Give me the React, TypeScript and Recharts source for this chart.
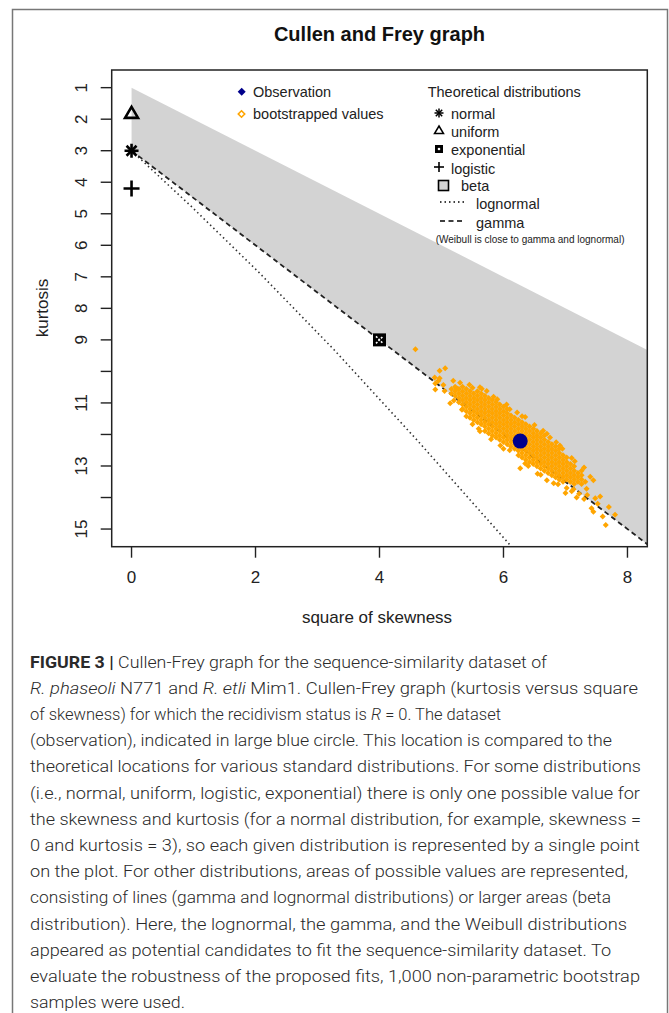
import React from "react";
import { Area, ComposedChart, Line, Scatter, XAxis, YAxis } from "recharts";

const FONT = "'Liberation Sans', Arial, Helvetica, sans-serif";
const CAPTION_FONT = "Roboto, 'Liberation Sans', Arial, sans-serif";
const INK = "#222";

const xTicks = [0, 2, 4, 6, 8];
const yTicks = [1, 2, 3, 4, 5, 6, 7, 8, 9, 10, 11, 12, 13, 14, 15];
const yLabelled = [1, 2, 3, 4, 5, 6, 7, 8, 9, 11, 13, 15];

// beta region: between kurtosis = s2 + 1 and the gamma line
const betaRegion = [
  { s: 0, k: [1, 3] },
  { s: 8.32, k: [9.32, 15.48] },
];

const gammaLine = [
  { s: 0, k: 3 },
  { s: 8.32, k: 15.48 },
];

const lognormalLine = [
  { s: 0, k: 3 },
  { s: 0.96, k: 4.76 },
  { s: 2.05, k: 6.85 },
  { s: 3.27, k: 9.32 },
  { s: 4.62, k: 12.21 },
  { s: 6.13, k: 15.56 },
];

const normalPt = [{ s: 0, k: 3 }];
const uniformPt = [{ s: 0, k: 1.8 }];
const logisticPt = [{ s: 0, k: 4.2 }];
const exponentialPt = [{ s: 4, k: 9 }];
const observation = [{ s: 6.27, k: 12.21 }];

// bootstrapped values, dense core read column by column (s2, kurtosis values)
const bootCols: [number, number[]][] = [
  [5.16, [10.56, 10.7]],
  [5.22, [10.49, 10.63, 10.77]],
  [5.28, [10.56, 10.7, 10.84, 10.98]],
  [5.34, [10.49, 10.63, 10.77, 10.91, 11.05, 11.19]],
  [5.4, [10.56, 10.7, 10.84, 10.98, 11.12, 11.26]],
  [5.46, [10.63, 10.77, 10.91, 11.05, 11.19, 11.33, 11.47]],
  [5.52, [10.7, 10.84, 10.98, 11.12, 11.26, 11.4, 11.54]],
  [5.58, [10.63, 10.77, 10.91, 11.05, 11.19, 11.33, 11.47, 11.61]],
  [5.64, [10.7, 10.84, 10.98, 11.12, 11.26, 11.4, 11.54, 11.68]],
  [5.7, [10.77, 10.91, 11.05, 11.19, 11.33, 11.47, 11.61, 11.75, 11.89]],
  [5.76, [10.84, 10.98, 11.12, 11.26, 11.4, 11.54, 11.68, 11.82, 11.96]],
  [5.82, [10.91, 11.05, 11.19, 11.33, 11.47, 11.61, 11.75, 11.89, 12.03]],
  [5.88, [10.98, 11.12, 11.26, 11.4, 11.54, 11.68, 11.82, 11.96, 12.1]],
  [5.94, [11.05, 11.19, 11.33, 11.47, 11.61, 11.75, 11.89, 12.03, 12.17]],
  [6.0, [11.12, 11.26, 11.4, 11.54, 11.68, 11.82, 11.96, 12.1, 12.24]],
  [6.06, [11.19, 11.33, 11.47, 11.61, 11.75, 11.89, 12.03, 12.17, 12.31]],
  [6.12, [11.4, 11.54, 11.68, 11.82, 11.96, 12.1, 12.24, 12.38]],
  [6.18, [11.47, 11.61, 11.75, 11.89, 12.03, 12.17, 12.31, 12.45]],
  [6.24, [11.54, 11.68, 11.82, 11.96, 12.1, 12.24, 12.38, 12.52, 12.66]],
  [6.3, [11.61, 11.75, 11.89, 12.03, 12.17, 12.31, 12.45, 12.59, 12.73]],
  [6.36, [11.68, 11.82, 11.96, 12.1, 12.24, 12.38, 12.52, 12.66, 12.8]],
  [6.42, [11.75, 11.89, 12.03, 12.17, 12.31, 12.45, 12.59, 12.73, 12.87]],
  [6.48, [11.82, 11.96, 12.1, 12.24, 12.38, 12.52, 12.66, 12.8, 12.94]],
  [6.54, [11.89, 12.03, 12.17, 12.31, 12.45, 12.59, 12.73, 12.87, 13.01]],
  [6.6, [11.96, 12.1, 12.24, 12.38, 12.52, 12.66, 12.8, 12.94, 13.08]],
  [6.66, [12.03, 12.17, 12.31, 12.45, 12.59, 12.73, 12.87, 13.01, 13.15]],
  [6.72, [12.24, 12.38, 12.52, 12.66, 12.8, 12.94, 13.08, 13.22]],
  [6.78, [12.31, 12.45, 12.59, 12.73, 12.87, 13.01, 13.15, 13.29]],
  [6.84, [12.38, 12.52, 12.66, 12.8, 12.94, 13.08, 13.22, 13.36]],
  [6.9, [12.45, 12.59, 12.73, 12.87, 13.01, 13.15, 13.29, 13.43]],
  [6.96, [12.66, 12.8, 12.94, 13.08, 13.22, 13.36, 13.5]],
  [7.02, [12.73, 12.87, 13.01, 13.15, 13.29, 13.43]],
  [7.08, [12.94, 13.08, 13.22, 13.36, 13.5]],
  [7.14, [13.01, 13.15, 13.29, 13.43, 13.57]],
  [7.2, [13.22, 13.36, 13.5]],
  [7.26, [13.29, 13.43, 13.57]],
  [7.32, [13.5]],
];

// scattered bootstrapped values around the core
const bootOutliers: [number, number][] = [
  [4.58, 9.3], [4.97, 9.98], [5.06, 9.9], [4.89, 10.19], [4.97, 10.22],
  [4.9, 10.57], [5.03, 10.43], [4.9, 10.38], [5.19, 10.3], [5.3, 10.36],
  [5.14, 11.01], [5.33, 11.22], [5.73, 10.62], [5.84, 10.8], [6.22, 11.3],
  [6.35, 11.45], [6.64, 11.88], [6.75, 12.1], [6.91, 12.35], [5.95, 12.35],
  [6.27, 13.07], [6.7, 13.45], [6.81, 13.55], [7.02, 13.7], [7.0, 13.86],
  [7.13, 13.74], [7.26, 13.15], [7.4, 13.34], [7.34, 13.72], [7.48, 14.02],
  [7.56, 13.97], [7.42, 14.34], [7.45, 14.45], [7.8, 14.55], [7.65, 14.87],
  [7.35, 13.92], [7.3, 14.05], [7.18, 14.0], [5.5, 11.68], [5.6, 11.82],
  [6.0, 12.45], [6.4, 13.0], [6.55, 13.25], [5.45, 10.42], [5.62, 10.5],
  [6.05, 11.05], [6.5, 11.7], [6.85, 12.25], [7.1, 12.75], [5.25, 10.54],
  [5.5, 10.52], [5.65, 10.55], [5.9, 10.88], [6.1, 11.2], [6.3, 11.42],
  [6.7, 11.98], [6.95, 12.45], [7.15, 12.85], [7.3, 13.05], [7.45, 13.45],
  [5.2, 10.92], [5.4, 11.42], [5.62, 11.9], [5.8, 12.15], [6.1, 12.5],
  [6.35, 12.92], [6.6, 13.28], [6.88, 13.58], [7.1, 13.8], [7.22, 13.88],
  [7.52, 14.2], [7.6, 14.6], [7.7, 14.3], [5.05, 10.62], [4.95, 10.3],
];

const bootData = [
  ...bootCols.flatMap(([s, ks]) => ks.map((k) => ({ s, k }))),
  ...bootOutliers.map(([s, k]) => ({ s, k })),
];

type Seg = { t: string; b?: boolean; i?: boolean };
const captionLines: { segs: Seg[]; right: number }[] = [
  { segs: [{ t: "FIGURE 3 | ", b: true }, { t: "Cullen-Frey graph for the sequence-similarity dataset of" }], right: 547 },
  { segs: [{ t: "R. phaseoli", i: true }, { t: " N771 and " }, { t: "R. etli", i: true }, { t: " Mim1. Cullen-Frey graph (kurtosis versus square" }], right: 638 },
  { segs: [{ t: "of skewness) for which the recidivism status is " }, { t: "R", i: true }, { t: " = 0. The dataset" }], right: 501 },
  { segs: [{ t: "(observation), indicated in large blue circle. This location is compared to the" }], right: 612 },
  { segs: [{ t: "theoretical locations for various standard distributions. For some distributions" }], right: 641 },
  { segs: [{ t: "(i.e., normal, uniform, logistic, exponential) there is only one possible value for" }], right: 640 },
  { segs: [{ t: "the skewness and kurtosis (for a normal distribution, for example, skewness =" }], right: 641 },
  { segs: [{ t: "0 and kurtosis = 3), so each given distribution is represented by a single point" }], right: 640 },
  { segs: [{ t: "on the plot. For other distributions, areas of possible values are represented," }], right: 628 },
  { segs: [{ t: "consisting of lines (gamma and lognormal distributions) or larger areas (beta" }], right: 611 },
  { segs: [{ t: "distribution). Here, the lognormal, the gamma, and the Weibull distributions" }], right: 627 },
  { segs: [{ t: "appeared as potential candidates to fit the sequence-similarity dataset. To" }], right: 611 },
  { segs: [{ t: "evaluate the robustness of the proposed fits, 1,000 non-parametric bootstrap" }], right: 640 },
  { segs: [{ t: "samples were used." }], right: 185 },
];

const XTick = ({ x, y, payload }: any) => (
  <text x={x} y={y + 18} textAnchor="middle" dominantBaseline="central" fontFamily={FONT} fontSize={17} fill={INK}>
    {payload.value}
  </text>
);

const YTick = ({ x, y, payload }: any) => {
  if (!yLabelled.includes(payload.value)) return <g />;
  const tx = x - 17;
  return (
    <text x={tx} y={y} transform={`rotate(-90 ${tx} ${y})`} textAnchor="middle" dominantBaseline="central" fontFamily={FONT} fontSize={17} fill={INK}>
      {payload.value}
    </text>
  );
};

const Diamond = ({ cx, cy }: any) => (
  <path d={`M${cx} ${cy - 3}L${cx + 3} ${cy}L${cx} ${cy + 3}L${cx - 3} ${cy}Z`} fill="#FFA500" />
);

const Dot = ({ cx, cy }: any) => <circle cx={cx} cy={cy} r={7.5} fill="#00008B" />;

const Triangle = ({ cx, cy }: any) => (
  <path d={`M${cx} ${cy - 6}L${cx + 6.5} ${cy + 5}L${cx - 6.5} ${cy + 5}Z`} fill="none" stroke="#000" strokeWidth={2.6} />
);

const Asterisk = ({ cx, cy }: any) => (
  <g stroke="#000" strokeWidth={2.6}>
    <line x1={cx - 7} y1={cy} x2={cx + 7} y2={cy} />
    <line x1={cx} y1={cy - 7} x2={cx} y2={cy + 7} />
    <line x1={cx - 5} y1={cy - 5} x2={cx + 5} y2={cy + 5} />
    <line x1={cx - 5} y1={cy + 5} x2={cx + 5} y2={cy - 5} />
  </g>
);

const Plus = ({ cx, cy }: any) => (
  <g stroke="#000" strokeWidth={2.6}>
    <line x1={cx - 8} y1={cy} x2={cx + 8} y2={cy} />
    <line x1={cx} y1={cy - 8} x2={cx} y2={cy + 8} />
  </g>
);

const SquareX = ({ cx, cy }: any) => (
  <g>
    <rect x={cx - 6.5} y={cy - 6.5} width={13} height={13} fill="#000" />
    <path d={`M${cx - 3.5} ${cy - 3.5}L${cx + 3.5} ${cy + 3.5}M${cx - 3.5} ${cy + 3.5}L${cx + 3.5} ${cy - 3.5}`} stroke="#fff" strokeWidth={1.6} strokeDasharray="2 1.5" />
  </g>
);

function Legend() {
  const t = { fontFamily: FONT, fontSize: 14.5, fill: INK, dominantBaseline: "central" as const };
  return (
    <g>
      <path d="M241.7 87.7L245.7 91.7L241.7 95.7L237.7 91.7Z" fill="#00008B" />
      <text x={253} y={92} {...t}>Observation</text>
      <path d="M241.5 110.8L244.7 114L241.5 117.2L238.3 114Z" fill="#fff" stroke="#FFA500" strokeWidth={1.6} />
      <text x={253} y={114} {...t}>bootstrapped values</text>

      <text x={427.7} y={92} {...t}>Theoretical distributions</text>
      <g stroke="#000" strokeWidth={1.5}>
        <line x1={434.5} y1={113} x2={443.5} y2={113} />
        <line x1={439} y1={108.5} x2={439} y2={117.5} />
        <line x1={435.8} y1={109.8} x2={442.2} y2={116.2} />
        <line x1={435.8} y1={116.2} x2={442.2} y2={109.8} />
      </g>
      <text x={451} y={114} {...t}>normal</text>
      <path d="M439 126L443.5 133.5L434.5 133.5Z" fill="none" stroke="#000" strokeWidth={1.5} />
      <text x={451} y={132} {...t}>uniform</text>
      <rect x={435} y={145} width={8} height={8} fill="#000" />
      <circle cx={439} cy={149} r={1.3} fill="#fff" />
      <text x={451} y={150} {...t}>exponential</text>
      <g stroke="#000" strokeWidth={1.6}>
        <line x1={434} y1={167} x2={444} y2={167} />
        <line x1={439} y1={162} x2={439} y2={172} />
      </g>
      <text x={451} y={168.5} {...t}>logistic</text>
      <rect x={438.5} y={180.5} width={10} height={10} fill="#D3D3D3" stroke="#000" strokeWidth={1.6} />
      <text x={461} y={186} {...t}>beta</text>
      <line x1={440} y1={202} x2={465} y2={202} stroke="#000" strokeWidth={1.5} strokeDasharray="1.5 3" />
      <text x={476} y={204} {...t}>lognormal</text>
      <line x1={440} y1={221} x2={465} y2={221} stroke="#000" strokeWidth={1.5} strokeDasharray="5 3.5" />
      <text x={476} y={222.5} {...t}>gamma</text>
      <text x={435.7} y={239} fontFamily={FONT} fontSize={10} fill={INK} dominantBaseline="central">
        (Weibull is close to gamma and lognormal)
      </text>
    </g>
  );
}

function Caption() {
  const left = 30;
  return (
    <g>
      {captionLines.map((line, i) => (
        <text
          key={i}
          x={left}
          y={667.5 + i * 26.2}
          fontFamily={CAPTION_FONT}
          fontWeight={300}
          fontSize={16.5}
          fill="#2a2a2a"
          textLength={line.right - left}
          lengthAdjust="spacingAndGlyphs"
          style={{ whiteSpace: "pre" }}
        >
          {line.segs.map((s, j) => (
            <tspan key={j} fontWeight={s.b ? 700 : 300} fontStyle={s.i ? "italic" : "normal"}>
              {s.t}
            </tspan>
          ))}
        </text>
      ))}
    </g>
  );
}

export default function App() {
  const plot = { left: 111.7, top: 70, right: 647.3, bottom: 546.7 };
  const chartH = 660;
  return (
    <div style={{ position: "absolute", left: 0, top: 0, width: 669, height: 1013, overflow: "hidden", background: "#fff" }}>
      <ComposedChart
        width={669}
        height={chartH}
        margin={{ top: plot.top, right: 669 - plot.right, bottom: chartH - plot.bottom - 40, left: plot.left - 40 }}
      >
        <XAxis
          type="number"
          dataKey="s"
          domain={[-0.32, 8.32]}
          allowDataOverflow
          ticks={xTicks}
          interval={0}
          height={40}
          tickSize={11}
          axisLine={false}
          tickLine={{ stroke: INK, strokeWidth: 1.4 }}
          tick={(p: any) => <XTick {...p} />}
        />
        <YAxis
          type="number"
          domain={[0.44, 15.56]}
          reversed
          allowDataOverflow
          ticks={yTicks}
          interval={0}
          width={40}
          tickSize={11}
          axisLine={false}
          tickLine={{ stroke: INK, strokeWidth: 1.4 }}
          tick={(p: any) => <YTick {...p} />}
        />
        <Area data={betaRegion} dataKey="k" type="linear" fill="#D3D3D3" fillOpacity={1} stroke="none" isAnimationActive={false} />
        <Line data={lognormalLine} dataKey="k" type="linear" stroke="#333" strokeWidth={1.6} strokeDasharray="1.5 3" dot={false} isAnimationActive={false} />
        <Line data={gammaLine} dataKey="k" type="linear" stroke="#222" strokeWidth={1.8} strokeDasharray="5 3.5" dot={false} isAnimationActive={false} />
        <Scatter data={bootData} dataKey="k" shape={(p: any) => <Diamond {...p} />} isAnimationActive={false} />
        <Scatter data={observation} dataKey="k" shape={(p: any) => <Dot {...p} />} isAnimationActive={false} />
        <Scatter data={normalPt} dataKey="k" shape={(p: any) => <Asterisk {...p} />} isAnimationActive={false} />
        <Scatter data={uniformPt} dataKey="k" shape={(p: any) => <Triangle {...p} />} isAnimationActive={false} />
        <Scatter data={exponentialPt} dataKey="k" shape={(p: any) => <SquareX {...p} />} isAnimationActive={false} />
        <Scatter data={logisticPt} dataKey="k" shape={(p: any) => <Plus {...p} />} isAnimationActive={false} />
      </ComposedChart>
      <svg width={669} height={1013} style={{ position: "absolute", left: 0, top: 0, pointerEvents: "none" }}>
        <rect x={12.5} y={9.5} width={655} height={1030} fill="none" stroke="#777" strokeWidth={1.5} />
        <text x={379.5} y={41} textAnchor="middle" fontFamily={FONT} fontWeight={700} fontSize={20} fill="#111">
          Cullen and Frey graph
        </text>
        <rect x={plot.left} y={plot.top} width={plot.right - plot.left} height={plot.bottom - plot.top} fill="none" stroke={INK} strokeWidth={1.5} />
        <text transform="translate(42 308) rotate(-90)" textAnchor="middle" dominantBaseline="central" fontFamily={FONT} fontSize={17} fill={INK}>
          kurtosis
        </text>
        <text x={377} y={617} textAnchor="middle" dominantBaseline="central" fontFamily={FONT} fontSize={17} fill={INK}>
          square of skewness
        </text>
        <Legend />
        <Caption />
      </svg>
    </div>
  );
}
